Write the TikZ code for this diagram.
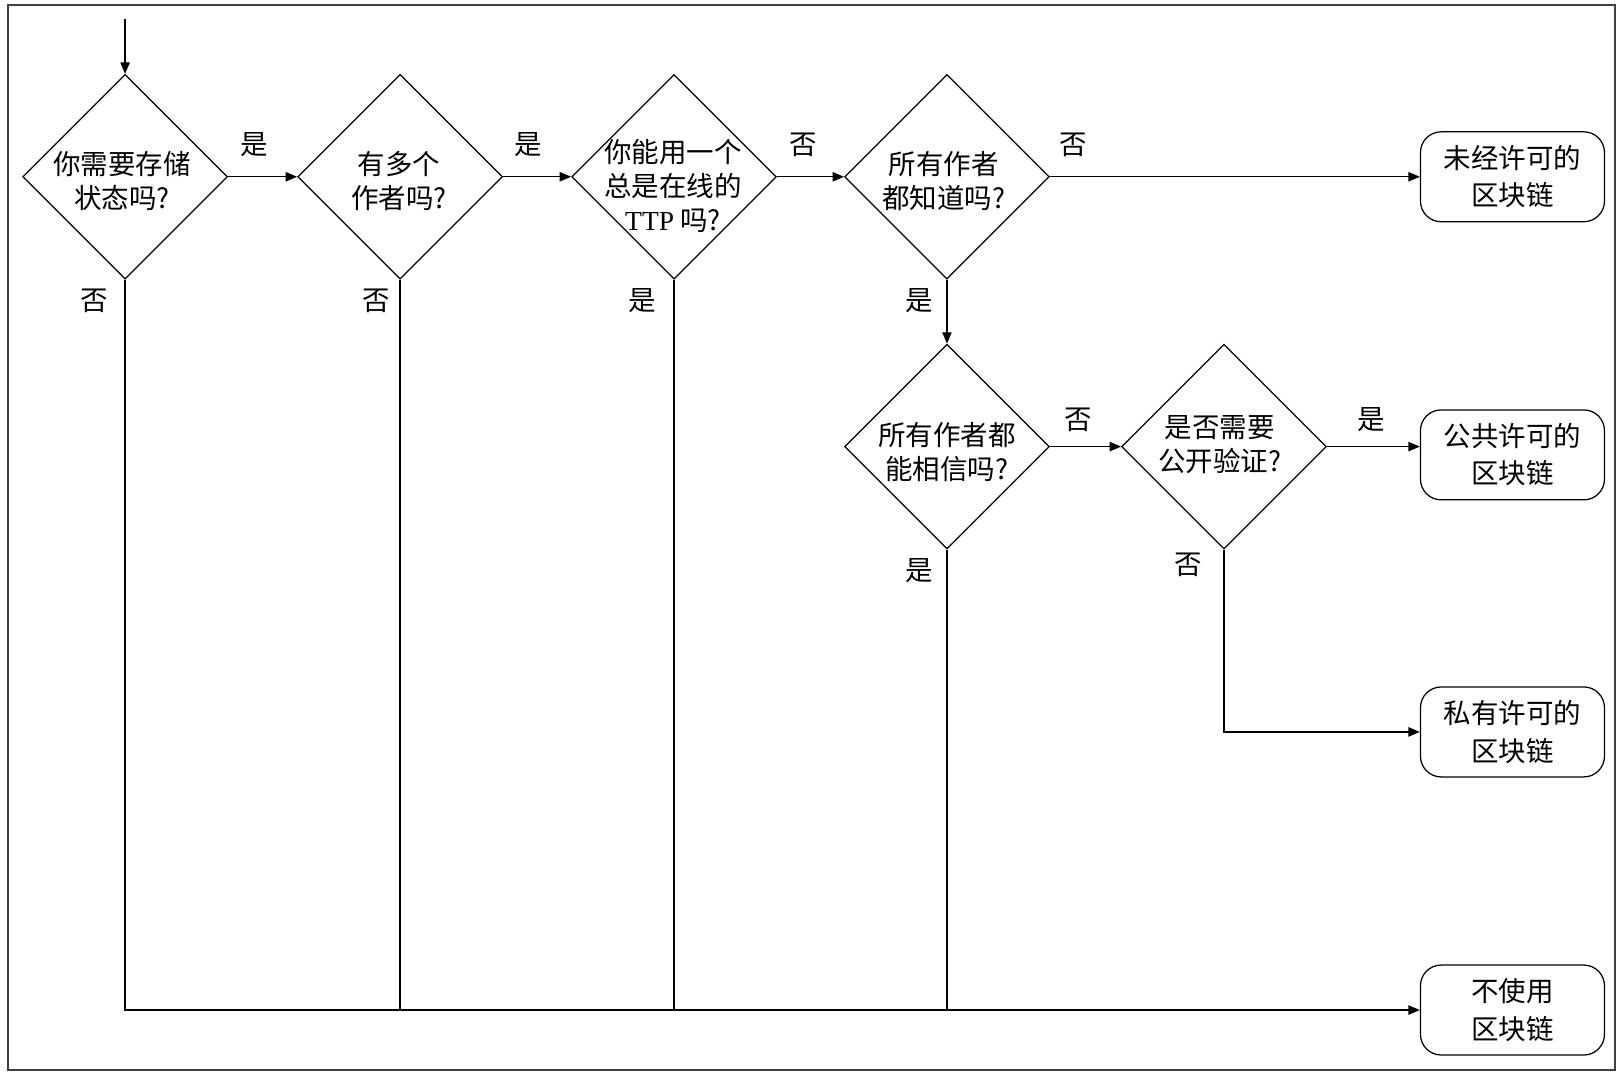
\documentclass[tikz,border=0pt]{standalone}
\usepackage{fontspec}
\setmainfont{Liberation Serif}
\newfontfamily\cjk{Noto Sans CJK SC}
\usetikzlibrary{shapes.geometric,arrows.meta}
\tikzset{
  dia/.style={draw, shape=diamond, minimum width=99pt, minimum height=99pt, inner sep=0pt, line width=0.6pt},
  txt/.style={align=center, inner sep=0pt, font=\fontsize{13.3pt}{16.5pt}\selectfont\cjk},
  endbox/.style={draw, rounded corners=10pt, minimum width=89pt, minimum height=43.5pt, align=center, inner sep=0pt, line width=0.6pt, font=\fontsize{13.3pt}{18pt}\selectfont\cjk},
  lab/.style={inner sep=0pt, font=\fontsize{13.3pt}{16pt}\selectfont\cjk},
  arr/.style={line width=0.6pt, -{Triangle[length=5.5pt,width=4.5pt]}},
  ln/.style={line width=0.6pt}
}
\begin{document}
\begin{tikzpicture}[x=0.5pt,y=-0.5pt]
\useasboundingbox (0,0) rectangle (1568,1040);
\draw[line width=1pt, black!75] (8,5) rectangle (1562,1035);

% decisions
\node[dia] (d1) at (121,171) {};
\node[dia] (d2) at (387,171) {};
\node[dia] (d3) at (652,171) {};
\node[dia] (d4) at (916,171) {};
\node[dia] (d5) at (916,432) {};
\node[dia] (d6) at (1184,432) {};

\node[txt] (t1) at (118,175) {你需要存储\\状态吗?};
\node[txt] (t2) at (386,175) {有多个\\作者吗?};
\node[txt] (t3) at (651,180) {你能用一个\\总是在线的\\{\rmfamily TTP} 吗?};
\node[txt] (t4) at (913,175) {所有作者\\都知道吗?};
\node[txt] (t5) at (916,437) {所有作者都\\能相信吗?};
\node[txt] (t6) at (1180,430) {是否需要\\公开验证?};

% outcomes
\node[endbox] (b1) at (1463,171) {未经许可的\\区块链};
\node[endbox] (b2) at (1463,440) {公共许可的\\区块链};
\node[endbox] (b3) at (1463,708) {私有许可的\\区块链};
\node[endbox] (b4) at (1463,977) {不使用\\区块链};

\coordinate (start) at (121,18);

% connectors
\draw[arr] (start) -- (d1.north);
\draw[arr] (d1.east) -- (d2.west);
\draw[arr] (d2.east) -- (d3.west);
\draw[arr] (d3.east) -- (d4.west);
\draw[arr] (d4.east) -- (b1.west);
\draw[arr] (d4.south) -- (d5.north);
\draw[arr] (d5.east) -- (d6.west);
\draw[arr] (d6.east) -- (d6.east -| b2.west);
\draw[arr] (d6.south) |- (b3.west);
\draw[arr] (d1.south) |- (b4.west);
\draw[ln] (d2.south) -- (d2.south |- b4.west);
\draw[ln] (d3.south) -- (d3.south |- b4.west);
\draw[ln] (d5.south) -- (d5.south |- b4.west);

% branch labels
\node[lab] (l1) at (246,140) {是};
\node[lab] (l2) at (511,140) {是};
\node[lab] (l3) at (777,140) {否};
\node[lab] (l4) at (1038,140) {否};
\node[lab] (l5) at (91,291) {否};
\node[lab] (l6) at (364,291) {否};
\node[lab] (l7) at (621,291) {是};
\node[lab] (l8) at (889,291) {是};
\node[lab] (l9) at (1043,406) {否};
\node[lab] (l10) at (1326,406) {是};
\node[lab] (l11) at (889,552) {是};
\node[lab] (l12) at (1149,546) {否};
\end{tikzpicture}
\end{document}
